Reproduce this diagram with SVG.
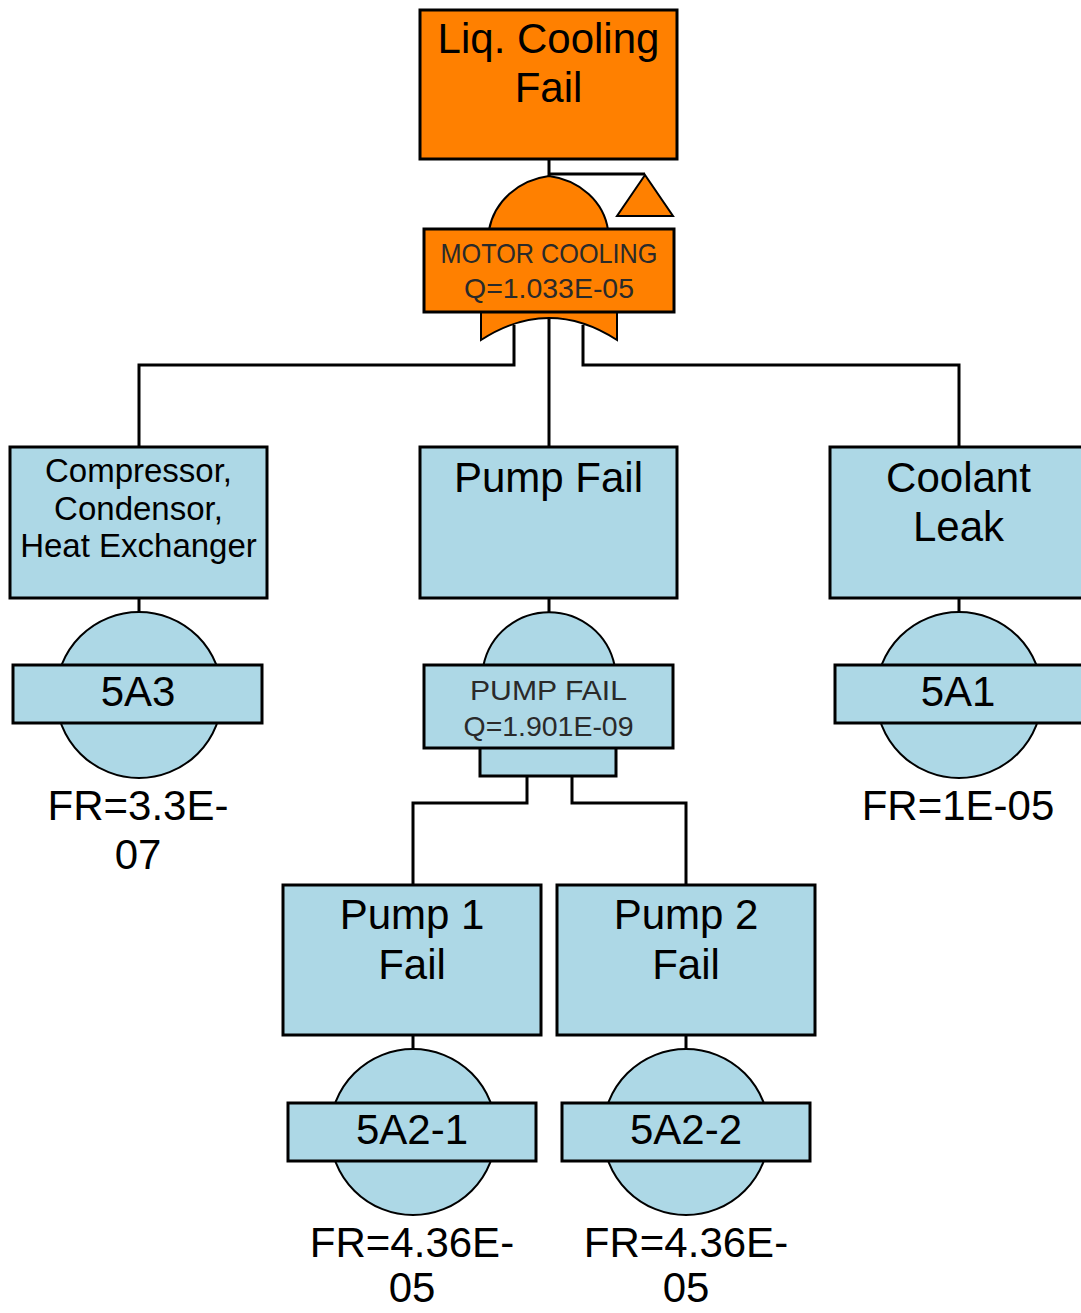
<svg xmlns="http://www.w3.org/2000/svg" width="1081" height="1313" viewBox="0 0 1081 1313">
<style>
.box{stroke:#000;stroke-width:3}
.or{fill:#FF8000}
.bl{fill:#ADD8E6}
.thin{stroke:#000;stroke-width:2}
.wire{fill:none;stroke:#000;stroke-width:3}
text{font-family:"Liberation Sans",Arial,sans-serif;fill:#000;text-anchor:middle}
.big{font-size:42px}
.mid{font-size:33px}
.gt{font-size:28px;fill:#2a2a2a}
</style>
<rect width="1081" height="1313" fill="#fff"/>
<g id="connectors">
<line class="wire" x1="549" y1="159" x2="549" y2="177"/>
<polyline class="wire" points="549,174 645,174"/>
<line class="wire" x1="549" y1="318" x2="549" y2="447"/>
<polyline class="wire" points="514,325 514,365 139,365 139,447"/>
<polyline class="wire" points="583,325 583,365 959,365 959,448"/>
<line class="wire" x1="139" y1="598" x2="139" y2="613"/>
<line class="wire" x1="549" y1="598" x2="549" y2="613"/>
<line class="wire" x1="959" y1="598" x2="959" y2="613"/>
<polyline class="wire" points="527,776 527,803 413,803 413,885"/>
<polyline class="wire" points="572,776 572,803 686,803 686,885"/>
<line class="wire" x1="413" y1="1035" x2="413" y2="1050"/>
<line class="wire" x1="686" y1="1035" x2="686" y2="1050"/>
</g>
<g id="top-event">
<rect class="box or" x="420" y="10" width="257" height="149"/>
<text class="big" x="548.5" y="53">Liq. Cooling</text>
<text class="big" x="548.5" y="102">Fail</text>
</g>
<g id="gate-motor-cooling">
<path class="or thin" d="M489,230 C494,202 518,180 549,176 C580,180 604,202 608,230 Z"/>
<path class="or thin" d="M481,311 L481,340 Q549,296 617,340 L617,311 Z"/>
<rect class="box or" x="424" y="229" width="250" height="83"/>
<text class="gt" x="549" y="263" textLength="217" lengthAdjust="spacingAndGlyphs">MOTOR COOLING</text>
<text class="gt" x="549" y="298" textLength="170" lengthAdjust="spacingAndGlyphs">Q=1.033E-05</text>
</g>
<g id="transfer">
<path class="or thin" d="M645,175 L617,216 L673,216 Z"/>
</g>
<g id="node-compressor">
<rect class="box bl" x="10" y="447" width="257" height="151"/>
<text class="mid" x="138.5" y="482">Compressor,</text>
<text class="mid" x="138.5" y="520">Condensor,</text>
<text class="mid" x="138.5" y="557">Heat Exchanger</text>
</g>
<g id="node-pump-fail">
<rect class="box bl" x="420" y="447" width="257" height="151"/>
<text class="big" x="548.5" y="492">Pump Fail</text>
</g>
<g id="node-coolant-leak">
<rect class="box bl" x="830" y="447" width="257" height="151"/>
<text class="big" x="958.5" y="492">Coolant</text>
<text class="big" x="958.5" y="541">Leak</text>
</g>
<g id="be-5A3">
<circle class="bl thin" cx="139" cy="695" r="83"/>
<rect class="box bl" x="13" y="665" width="249" height="58"/>
<text class="big" x="138" y="706">5A3</text>
<text class="big" x="138" y="820">FR=3.3E-</text>
<text class="big" x="138" y="869">07</text>
</g>
<g id="gate-pump-fail">
<path class="bl thin" d="M483.3,666 A67,67 0 0 1 614.7,666 Z"/>
<rect class="box bl" x="480" y="747" width="136" height="29"/>
<rect class="box bl" x="424" y="665" width="249" height="83"/>
<text class="gt" x="548.5" y="700" textLength="157" lengthAdjust="spacingAndGlyphs">PUMP FAIL</text>
<text class="gt" x="548.5" y="736" textLength="170" lengthAdjust="spacingAndGlyphs">Q=1.901E-09</text>
</g>
<g id="be-5A1">
<circle class="bl thin" cx="959" cy="695" r="83"/>
<rect class="box bl" x="835" y="665" width="249" height="58"/>
<text class="big" x="958" y="706">5A1</text>
<text class="big" x="958" y="820">FR=1E-05</text>
</g>
<g id="node-pump1">
<rect class="box bl" x="283" y="885" width="258" height="150"/>
<text class="big" x="412" y="929">Pump 1</text>
<text class="big" x="412" y="979">Fail</text>
</g>
<g id="node-pump2">
<rect class="box bl" x="557" y="885" width="258" height="150"/>
<text class="big" x="686" y="929">Pump 2</text>
<text class="big" x="686" y="979">Fail</text>
</g>
<g id="be-5A2-1">
<circle class="bl thin" cx="413" cy="1132" r="83"/>
<rect class="box bl" x="288" y="1103" width="248" height="58"/>
<text class="big" x="412" y="1144">5A2-1</text>
<text class="big" x="412" y="1257">FR=4.36E-</text>
<text class="big" x="412" y="1302">05</text>
</g>
<g id="be-5A2-2">
<circle class="bl thin" cx="686" cy="1132" r="83"/>
<rect class="box bl" x="562" y="1103" width="248" height="58"/>
<text class="big" x="686" y="1144">5A2-2</text>
<text class="big" x="686" y="1257">FR=4.36E-</text>
<text class="big" x="686" y="1302">05</text>
</g>
</svg>
